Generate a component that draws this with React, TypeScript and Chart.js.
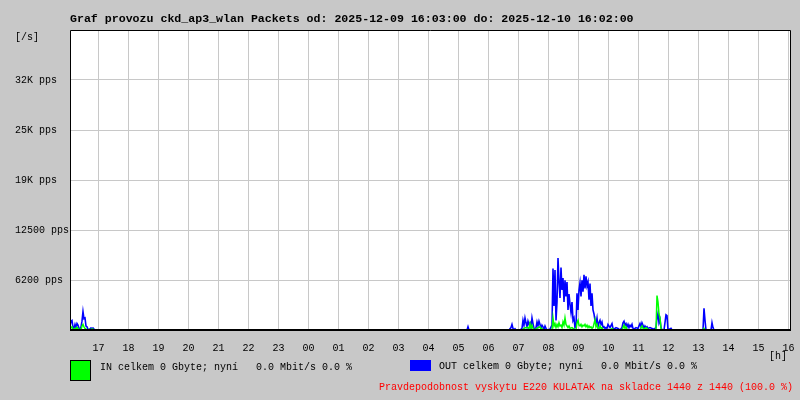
import React, { useEffect, useRef } from "react";
import { Chart, registerables } from "chart.js";

Chart.register(...registerables);

// Time axis: minutes since 2025-12-09 16:03:00
const hourTickMinutes = [57, 117, 177, 237, 297, 357, 417, 477, 537, 597, 657, 717, 777, 837, 897, 957, 1017, 1077, 1137, 1197, 1257, 1317, 1377, 1437];
const hourTickLabels = ["17", "18", "19", "20", "21", "22", "23", "00", "01", "02", "03", "04", "05", "06", "07", "08", "09", "10", "11", "12", "13", "14", "15", "16"];

const yTickValues = [0, 6250, 12500, 18750, 25000, 31250, 37500];
const yTickLabels = ["", "6200 pps", "12500 pps", "19K pps", "25K pps", "32K pps", ""];

// OUT (blue) packets/s
const outMinutes = [
  0, 2, 4, 6, 8, 10, 12, 14, 16, 18, 20, 22, 24, 26, 28, 30, 32, 34, 36, 38, 40, 42, 44, 46, 48, 50,
  794, 796, 798,
  878, 882, 884, 886, 888, 890, 892,
  900, 904, 906, 908, 910, 912, 914, 916, 918, 920, 922, 924, 926, 928, 930, 932, 934, 936, 938, 940, 942, 944, 946, 948, 950, 952, 954, 960,
  964, 966, 968, 970, 972, 974, 976, 978, 980, 982, 984, 986, 988, 990, 992, 994, 996, 998, 1000, 1002, 1004, 1006, 1008, 1010, 1012,
  1014, 1016, 1018, 1020, 1022, 1024, 1026, 1028, 1030, 1032, 1034, 1036, 1038, 1040, 1042, 1044, 1046, 1048, 1050, 1052, 1054, 1056, 1058,
  1060, 1062, 1064, 1066, 1068, 1070, 1072, 1074, 1076, 1080, 1084, 1086, 1088, 1092, 1096, 1100,
  1104, 1106, 1108, 1110, 1112, 1114, 1116, 1118, 1120, 1122, 1124, 1126, 1128, 1132, 1136,
  1140, 1142, 1144, 1146, 1148, 1150, 1152, 1154, 1156, 1160, 1164, 1168, 1172,
  1174, 1176, 1178, 1180, 1182, 1184, 1188, 1192, 1194, 1196, 1202, 1204,
  1266, 1268, 1270, 1272, 1282, 1284, 1286, 1288, 1440,
];
const outValues = [
  600, 1100, 1200, 300, 200, 700, 300, 800, 600, 200, 100, 400, 1100, 2300, 1400, 1500, 500, 400, 100, 0, 150, 250, 200, 250, 100, 0,
  0, 400, 0,
  0, 300, 700, 200, 0, 150, 0,
  0, 200, 1200, 600, 1500, 900, 400, 1100, 700, 900, 300, 1500, 800, 200, 100, 300, 1000, 500, 1100, 700, 200, 600, 400, 100, 500, 200, 0, 100,
  600, 7700, 3000, 7500, 1200, 3500, 9000, 6000, 4000, 7800, 5000, 6500, 3500, 6200, 4200, 6000, 2500, 4500, 3200, 2200, 3500, 1200, 1500, 300, 400,
  4600, 2500, 5000, 5900, 4200, 6200, 4800, 6900, 5200, 6700, 5500, 6000, 3800, 5800, 3000, 4600, 2500, 2000, 1200, 800, 1500, 400, 900,
  1200, 700, 1000, 300, 400, 200, 300, 200, 700, 300, 800, 200, 100, 300, 200, 0,
  300, 900, 1100, 600, 800, 400, 700, 300, 600, 400, 700, 200, 100, 300, 200,
  800, 400, 900, 600, 200, 500, 300, 400, 200, 300, 200, 100, 300,
  1500, 2100, 900, 1300, 300, 0, 0, 1900, 1800, 0, 200, 0,
  0, 2700, 1200, 0, 0, 900, 300, 0, 0,
];

// IN (green) packets/s
const inMinutes = [
  0, 2, 4, 6, 8, 10, 12, 14, 16, 18, 20, 22, 24, 26, 28, 30, 32, 34, 40, 42, 44, 46, 48,
  904, 908, 912, 916, 918, 920, 922, 924, 926, 928, 934, 936, 940, 942, 944, 946,
  964, 966, 968, 970, 972, 974, 976, 978, 980, 982, 984, 986, 988, 990, 992, 994, 996, 998, 1000, 1004, 1008, 1012,
  1014, 1016, 1018, 1020, 1022, 1024, 1026, 1028, 1030, 1032, 1034, 1036, 1038, 1040, 1042, 1044, 1046, 1048, 1050, 1052, 1054, 1056, 1058,
  1060, 1062, 1064, 1066, 1080, 1084, 1088,
  1104, 1106, 1108, 1110, 1112, 1114, 1116, 1140, 1142, 1144, 1146, 1148, 1152, 1156, 1158,
  1172, 1174, 1176, 1178, 1180, 1182, 1184, 1266, 1268, 1270, 1440,
];
const inValues = [
  0, 300, 400, 100, 0, 200, 0, 350, 200, 0, 100, 0, 500, 700, 400, 200, 100, 0, 100, 0, 150, 100, 0,
  0, 200, 300, 300, 100, 800, 200, 600, 200, 0, 200, 300, 400, 100, 200, 0,
  0, 1500, 500, 800, 300, 700, 400, 900, 500, 600, 300, 1000, 600, 1500, 700, 500, 300, 500, 200, 300, 100, 0,
  900, 1200, 600, 500, 700, 400, 600, 500, 700, 400, 600, 300, 500, 300, 400, 200, 300, 800, 1300, 400, 700, 200, 100,
  500, 200, 300, 0, 0, 200, 0,
  0, 300, 600, 200, 400, 100, 0, 0, 300, 500, 200, 100, 300, 100, 0,
  0, 4300, 3500, 2000, 1500, 200, 0, 0, 200, 0, 0,
];

const titleText = "Graf provozu ckd_ap3_wlan Packets od: 2025-12-09 16:03:00 do: 2025-12-10 16:02:00";
const inLegendText = "IN celkem 0 Gbyte; nyní   0.0 Mbit/s 0.0 %";
const outLegendText = "OUT celkem 0 Gbyte; nyní   0.0 Mbit/s 0.0 %";
const noteText = "Pravdepodobnost vyskytu E220 KULATAK na skladce 1440 z 1440 (100.0 %)";

const BG = "#c8c8c8";
const GRID = "#c8c8c8";
const MONO = "'Liberation Mono', 'DejaVu Sans Mono', monospace";

const decorPlugin = {
  id: "decor",
  beforeDraw(chart: any) {
    const { ctx, chartArea } = chart;
    ctx.save();
    ctx.fillStyle = BG;
    ctx.fillRect(0, 0, chart.width, chart.height);
    ctx.fillStyle = "#ffffff";
    ctx.fillRect(chartArea.left, chartArea.top, chartArea.right - chartArea.left, chartArea.bottom - chartArea.top);
    ctx.restore();
  },
  afterDatasetsDraw(chart: any) {
    const { ctx, chartArea } = chart;
    ctx.save();
    ctx.strokeStyle = "#000000";
    ctx.lineWidth = 1;
    ctx.beginPath();
    ctx.moveTo(chartArea.left + 0.5, chartArea.bottom);
    ctx.lineTo(chartArea.left + 0.5, chartArea.top + 0.5);
    ctx.lineTo(chartArea.right + 0.5, chartArea.top + 0.5);
    ctx.lineTo(chartArea.right + 0.5, chartArea.bottom);
    ctx.stroke();
    ctx.lineWidth = 2;
    ctx.beginPath();
    ctx.moveTo(chartArea.left, chartArea.bottom);
    ctx.lineTo(chartArea.right + 1, chartArea.bottom);
    ctx.stroke();
    ctx.restore();
  },
  afterDraw(chart: any) {
    const { ctx } = chart;
    ctx.save();
    ctx.fillStyle = "#000000";
    ctx.textBaseline = "middle";
    ctx.textAlign = "left";
    ctx.font = `bold 11.6px ${MONO}`;
    ctx.fillText(titleText, 70, 19);
    ctx.font = `10px ${MONO}`;
    ctx.fillText("[/s]", 15, 37);
    ctx.fillText("[h]", 769, 356);
    // legend
    ctx.fillStyle = "#00ff00";
    ctx.fillRect(70, 360, 20, 20);
    ctx.strokeStyle = "#000000";
    ctx.lineWidth = 1;
    ctx.strokeRect(70.5, 360.5, 20, 20);
    ctx.fillStyle = "#0000ff";
    ctx.fillRect(410, 360, 21, 11);
    ctx.fillStyle = "#000000";
    ctx.fillText(inLegendText, 100, 367);
    ctx.fillText(outLegendText, 439, 366);
    ctx.fillStyle = "#ff0000";
    ctx.fillText(noteText, 379, 387);
    ctx.restore();
  },
};

export default function App() {
  const canvasRef = useRef<HTMLCanvasElement | null>(null);

  useEffect(() => {
    document.body.style.margin = "0";
    const canvas = canvasRef.current;
    if (!canvas) return;
    const chart = new Chart(canvas, {
      type: "line",
      data: {
        datasets: [
          {
            label: "IN",
            data: inMinutes.map((m, i) => ({ x: m, y: inValues[i] })),
            borderColor: "#00ff00",
            borderWidth: 1.5,
            pointRadius: 0,
            tension: 0,
            fill: false,
          },
          {
            label: "OUT",
            data: outMinutes.map((m, i) => ({ x: m, y: outValues[i] })),
            borderColor: "#0000ff",
            borderWidth: 1.6,
            pointRadius: 0,
            tension: 0,
            fill: false,
          },
        ],
      },
      options: {
        responsive: false,
        animation: false,
        devicePixelRatio: 1,
        layout: { padding: { top: 30, left: 15, right: 10, bottom: 0 } },
        plugins: {
          legend: { display: false },
          tooltip: { enabled: false },
          title: { display: false },
        },
        scales: {
          x: {
            type: "linear",
            min: 0,
            max: 1440,
            afterBuildTicks: (scale: any) => {
              scale.ticks = hourTickMinutes.map((v) => ({ value: v }));
            },
            afterFit: (scale: any) => {
              scale.height = 70;
              scale.paddingLeft = 0;
              scale.paddingRight = 0;
            },
            ticks: {
              autoSkip: false,
              maxRotation: 0,
              padding: 12,
              color: "#000000",
              font: { family: MONO, size: 10 },
              callback: (_v: any, i: number) => hourTickLabels[i],
            },
            grid: { color: GRID, drawTicks: false, lineWidth: 1 },
            border: { display: false },
          },
          y: {
            type: "linear",
            min: 0,
            max: 37500,
            afterBuildTicks: (scale: any) => {
              scale.ticks = yTickValues.map((v) => ({ value: v }));
            },
            afterFit: (scale: any) => {
              scale.width = 55;
              scale.paddingTop = 0;
              scale.paddingBottom = 0;
            },
            ticks: {
              crossAlign: "far",
              color: "#000000",
              font: { family: MONO, size: 10 },
              callback: (_v: any, i: number) => yTickLabels[i],
            },
            grid: { color: GRID, drawTicks: false, lineWidth: 1 },
            border: { display: false },
          },
        },
      },
      plugins: [decorPlugin],
    });
    return () => chart.destroy();
  }, []);

  return (
    <div style={{ position: "fixed", left: 0, top: 0, width: 800, height: 400, background: BG }}>
      <canvas ref={canvasRef} width={800} height={400} style={{ display: "block", width: 800, height: 400 }} />
    </div>
  );
}
